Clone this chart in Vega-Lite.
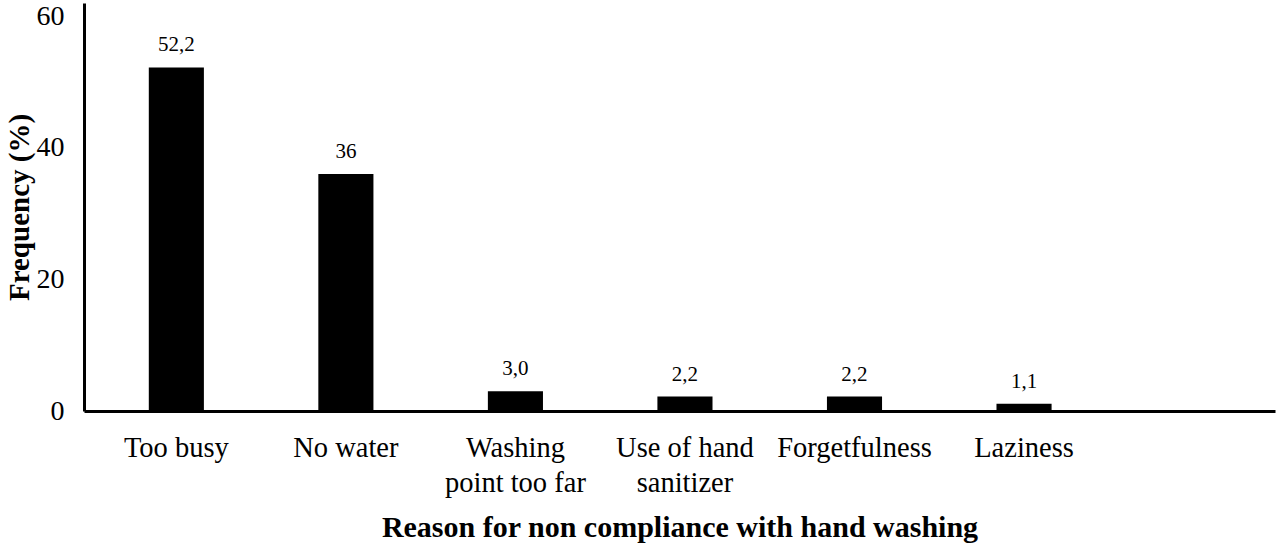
{
  "$schema": "https://vega.github.io/schema/vega-lite/v6.json",
  "width": 1191,
  "height": 408,
  "autosize": {"type": "none"},
  "padding": {"left": 84, "top": 3, "right": 5, "bottom": 134},
  "data": {
    "values": [
      {"reason": "Too busy", "freq": 52.2, "label": "52,2"},
      {"reason": "No water", "freq": 36, "label": "36"},
      {"reason": "Washing point too far", "freq": 3.0, "label": "3,0"},
      {"reason": "Use of hand sanitizer", "freq": 2.2, "label": "2,2"},
      {"reason": "Forgetfulness", "freq": 2.2, "label": "2,2"},
      {"reason": "Laziness", "freq": 1.1, "label": "1,1"}
    ]
  },
  "encoding": {
    "x": {
      "field": "reason",
      "type": "nominal",
      "sort": null,
      "title": "Reason for non compliance with hand washing",
      "scale": {
        "domain": ["Too busy", "No water", "Washing point too far", "Use of hand sanitizer", "Forgetfulness", "Laziness", " "],
        "paddingInner": 0.675,
        "paddingOuter": 0.35,
        "align": 0.546
      },
      "axis": {
        "labelAngle": 0,
        "ticks": false,
        "domainWidth": 3,
        "domainColor": "black",
        "labelFontSize": 28.5,
        "labelColor": "black",
        "labelPadding": 22,
        "labelBaseline": "top",
        "labelLineHeight": 35,
        "labelLimit": 300,
        "labelExpr": "datum.label == 'Washing point too far' ? ['Washing', 'point too far'] : datum.label == 'Use of hand sanitizer' ? ['Use of hand', 'sanitizer'] : datum.label",
        "titleFontSize": 30,
        "titleFontWeight": "bold",
        "titleColor": "black",
        "titlePadding": 16
      }
    },
    "y": {
      "field": "freq",
      "type": "quantitative",
      "title": "Frequency (%)",
      "scale": {"domain": [0, 62], "nice": false},
      "axis": {
        "values": [0, 20, 40, 60],
        "grid": false,
        "ticks": false,
        "domainWidth": 3,
        "domainColor": "black",
        "labelFontSize": 28,
        "labelColor": "black",
        "labelPadding": 20,
        "titleFontSize": 29,
        "titleFontWeight": "bold",
        "titleColor": "black",
        "titlePadding": 2
      }
    }
  },
  "layer": [
    {"mark": {"type": "bar", "color": "black"}},
    {
      "mark": {"type": "text", "baseline": "bottom", "dy": -12, "fontSize": 21, "color": "black"},
      "encoding": {"text": {"field": "label"}}
    }
  ],
  "config": {
    "font": "'Liberation Serif', 'DejaVu Serif', serif",
    "axis": {"labelFont": "'Liberation Serif', 'DejaVu Serif', serif", "titleFont": "'Liberation Serif', 'DejaVu Serif', serif"},
    "text": {"font": "'Liberation Serif', 'DejaVu Serif', serif"},
    "view": {"stroke": null}
  }
}
